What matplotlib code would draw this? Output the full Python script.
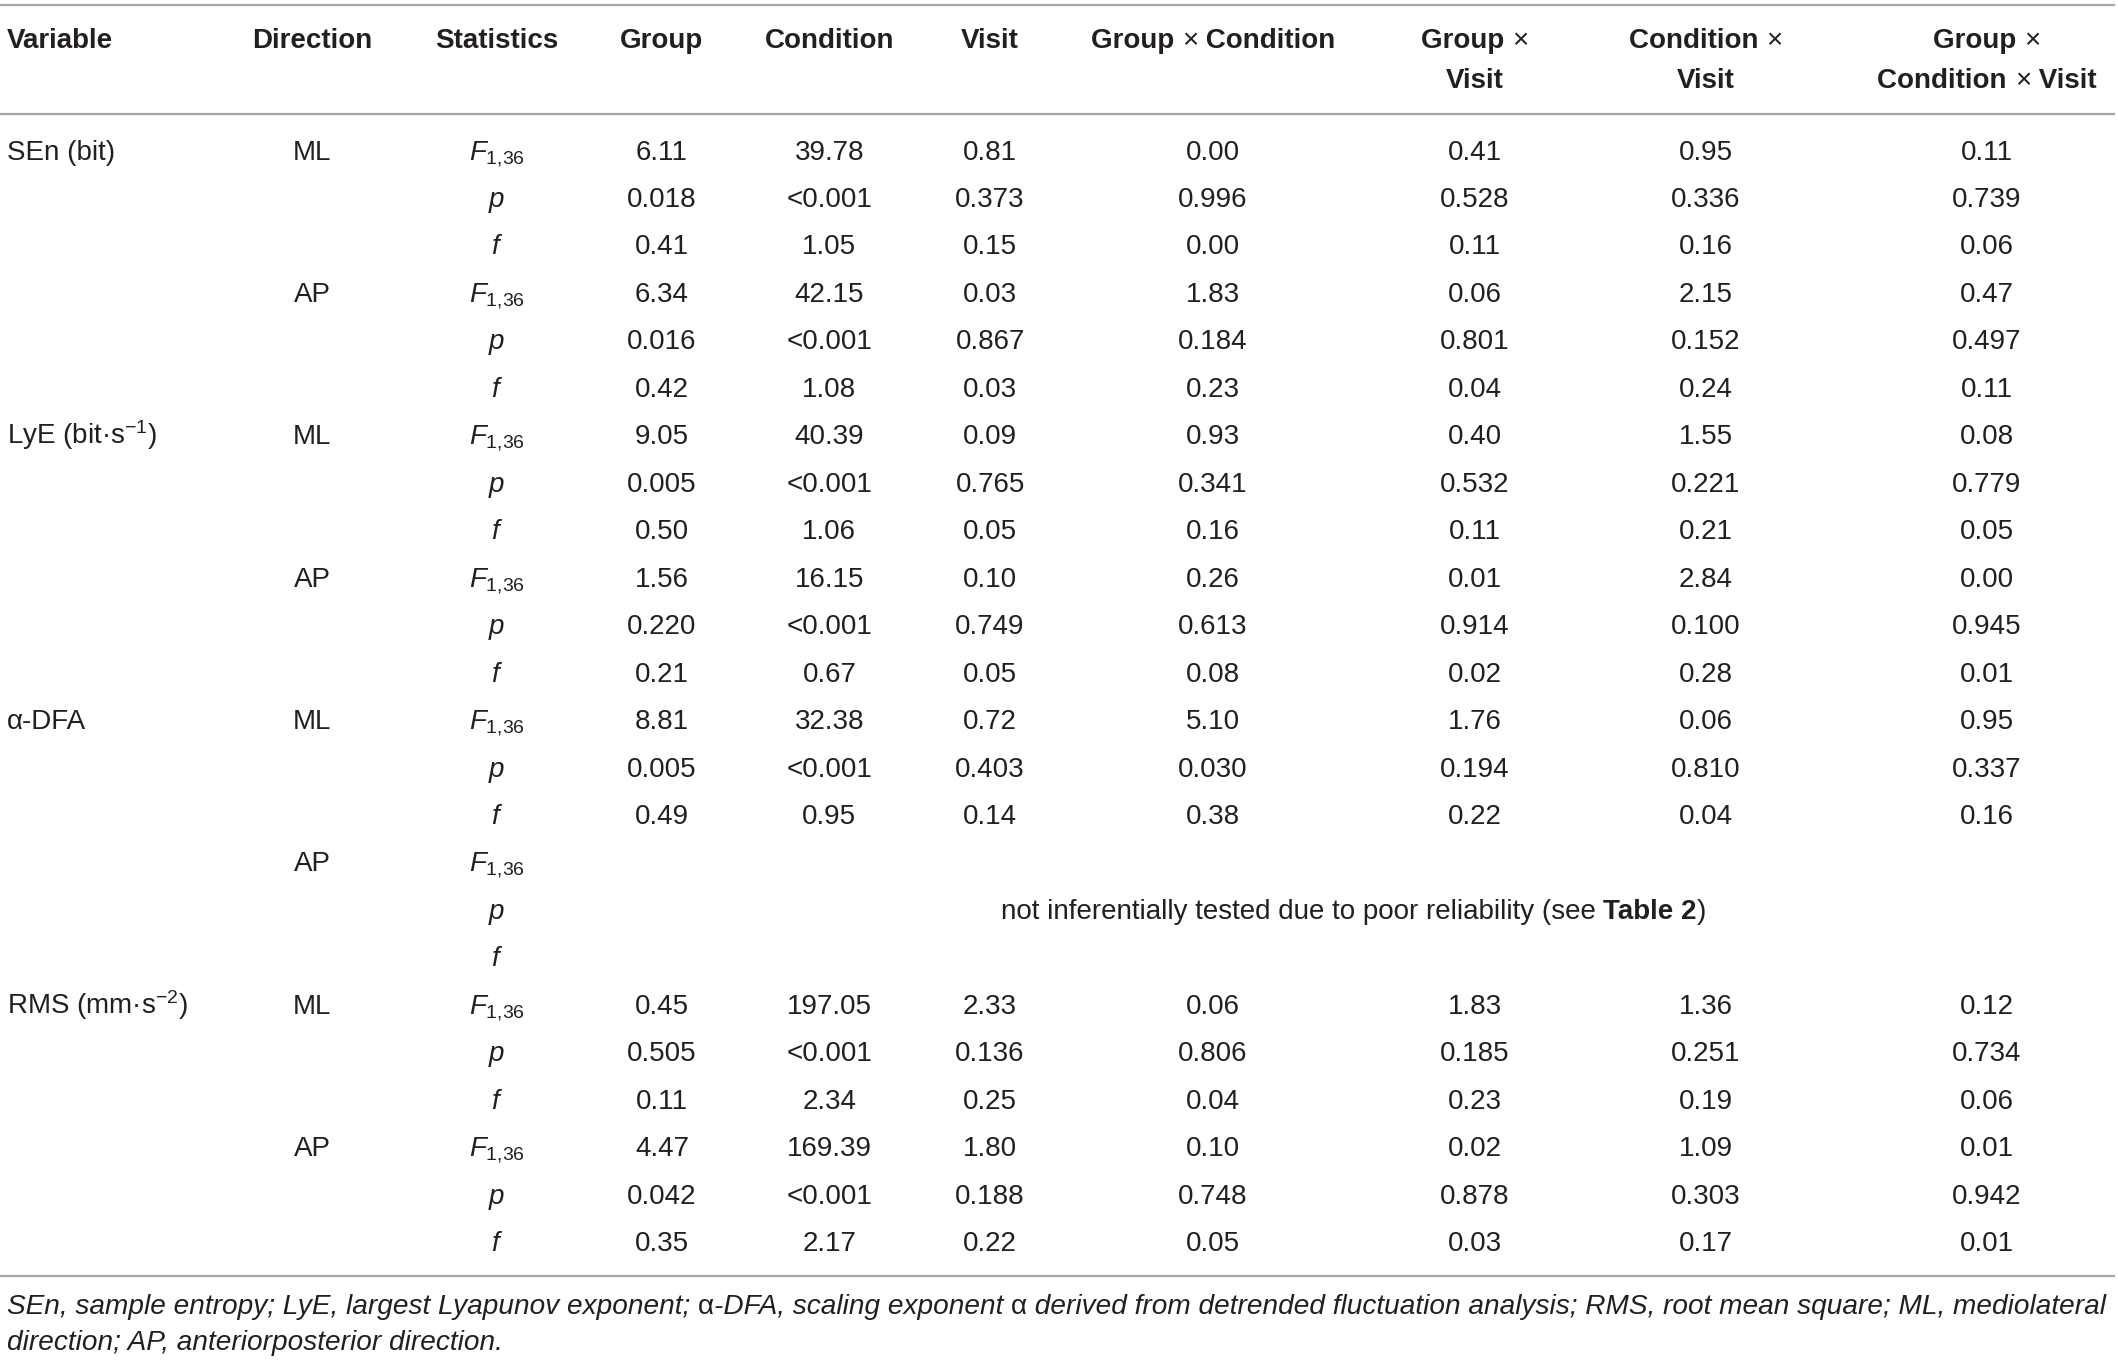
import matplotlib
matplotlib.use("Agg")
import matplotlib.pyplot as plt
from matplotlib.lines import Line2D

plt.rcParams['font.family'] = ['Liberation Sans', 'DejaVu Sans']
plt.rcParams['mathtext.fontset'] = 'custom'
plt.rcParams['mathtext.rm'] = 'Liberation Sans'
plt.rcParams['mathtext.it'] = 'Liberation Sans:italic'
plt.rcParams['mathtext.bf'] = 'Liberation Sans:bold'

# Datos de la tabla
variables = ["SEn (bit)", r"LyE (bit·s$^{-1}$)", "α-DFA", r"RMS (mm·s$^{-2}$)"]
directions = ["ML", "AP"]
stats = [r"$\mathit{F}_{\mathrm{1{,}36}}$", r"$\mathit{p}$", r"$\mathit{f}$"]

group = ["6.11", "0.018", "0.41", "6.34", "0.016", "0.42",
         "9.05", "0.005", "0.50", "1.56", "0.220", "0.21",
         "8.81", "0.005", "0.49", None, None, None,
         "0.45", "0.505", "0.11", "4.47", "0.042", "0.35"]
condition = ["39.78", "<0.001", "1.05", "42.15", "<0.001", "1.08",
             "40.39", "<0.001", "1.06", "16.15", "<0.001", "0.67",
             "32.38", "<0.001", "0.95", None, None, None,
             "197.05", "<0.001", "2.34", "169.39", "<0.001", "2.17"]
visit = ["0.81", "0.373", "0.15", "0.03", "0.867", "0.03",
         "0.09", "0.765", "0.05", "0.10", "0.749", "0.05",
         "0.72", "0.403", "0.14", None, None, None,
         "2.33", "0.136", "0.25", "1.80", "0.188", "0.22"]
group_cond = ["0.00", "0.996", "0.00", "1.83", "0.184", "0.23",
              "0.93", "0.341", "0.16", "0.26", "0.613", "0.08",
              "5.10", "0.030", "0.38", None, None, None,
              "0.06", "0.806", "0.04", "0.10", "0.748", "0.05"]
group_visit = ["0.41", "0.528", "0.11", "0.06", "0.801", "0.04",
               "0.40", "0.532", "0.11", "0.01", "0.914", "0.02",
               "1.76", "0.194", "0.22", None, None, None,
               "1.83", "0.185", "0.23", "0.02", "0.878", "0.03"]
cond_visit = ["0.95", "0.336", "0.16", "2.15", "0.152", "0.24",
              "1.55", "0.221", "0.21", "2.84", "0.100", "0.28",
              "0.06", "0.810", "0.04", None, None, None,
              "1.36", "0.251", "0.19", "1.09", "0.303", "0.17"]
group_cond_visit = ["0.11", "0.739", "0.06", "0.47", "0.497", "0.11",
                    "0.08", "0.779", "0.05", "0.00", "0.945", "0.01",
                    "0.95", "0.337", "0.16", None, None, None,
                    "0.12", "0.734", "0.06", "0.01", "0.942", "0.01"]

columns = [group, condition, visit, group_cond, group_visit, cond_visit, group_cond_visit]

# Encabezados: lista de lineas, cada linea = segmentos (texto, peso)
headers = [
    [[("Variable", "bold")]],
    [[("Direction", "bold")]],
    [[("Statistics", "bold")]],
    [[("Group", "bold")]],
    [[("Condition", "bold")]],
    [[("Visit", "bold")]],
    [[("Group ", "bold"), ("×", "normal"), (" Condition", "bold")]],
    [[("Group ", "bold"), ("×", "normal")], [("Visit", "bold")]],
    [[("Condition ", "bold"), ("×", "normal")], [("Visit", "bold")]],
    [[("Group ", "bold"), ("×", "normal")],
     [("Condition ", "bold"), ("×", "normal"), (" Visit", "bold")]],
]

note_text = "not inferentially tested due to poor reliability (see "
footnote = [
    [("SEn, sample entropy; LyE, largest Lyapunov exponent; ", "italic"), ("α", "normal"),
     ("-DFA, scaling exponent ", "italic"), ("α", "normal"),
     (" derived from detrended fluctuation analysis; RMS, root mean square; ML, mediolateral", "italic")],
    [("direction; AP, anteriorposterior direction.", "italic")],
]

# Geometria (en coordenadas de la imagen de 1568x1003)
W0, H0 = 1568.0, 1003.0
col_x = [5, 231, 368, 490, 614, 733, 898, 1092, 1263, 1471]
head_y = [29, 58]
row_y0, row_dy = 111, 34.95
base_off = 6.5
FS = 20
color = "#231f20"
line_color = "#a6a6a6"

fig = plt.figure(figsize=(21.18, 13.62), dpi=100)
renderer = fig.canvas.get_renderer()


def fx(x):
    return x / W0


def fy(y):
    return 1 - y / H0


def mixed(x, y, parts, ha="center", size=FS, key="weight"):
    objs = []
    for s, v in parts:
        kw = {"fontweight": v} if key == "weight" else {"fontstyle": v}
        objs.append(fig.text(0, fy(y + base_off), s, fontsize=size, color=color,
                             va="baseline", ha="left", **kw))
    widths = [o.get_window_extent(renderer).width / fig.bbox.width for o in objs]
    total = sum(widths)
    start = fx(x) - total / 2 if ha == "center" else fx(x)
    for o, w in zip(objs, widths):
        o.set_x(start)
        start += w


def cell(x, y, s, ha="center"):
    fig.text(fx(x), fy(y + base_off), s, fontsize=FS, color=color, ha=ha, va="baseline")


def hline(y):
    fig.add_artist(Line2D([0, 0.998], [fy(y), fy(y)], transform=fig.transFigure,
                          color=line_color, lw=1.6))


hline(4)
hline(84)
hline(940)

# encabezados
for i, lines in enumerate(headers):
    for j, parts in enumerate(lines):
        mixed(col_x[i], head_y[j], parts, ha="left" if i == 0 else "center")

# cuerpo
for r in range(24):
    y = row_y0 + r * row_dy
    if r % 6 == 0:
        cell(col_x[0], y, variables[r // 6], ha="left")
    if r % 3 == 0:
        cell(col_x[1], y, directions[(r // 3) % 2])
    cell(col_x[2], y, stats[r % 3])
    for c, vals in enumerate(columns):
        if vals[r] is not None:
            cell(col_x[3 + c], y, vals[r])

# fila sin datos
mixed(1002, row_y0 + 16 * row_dy, [(note_text, "normal"), ("Table 2", "bold"), (")", "normal")])

# nota al pie
for k, parts in enumerate(footnote):
    mixed(5, 961 + k * 27, parts, ha="left", size=20.2, key="style")

fig.savefig("out.png", dpi=100)
